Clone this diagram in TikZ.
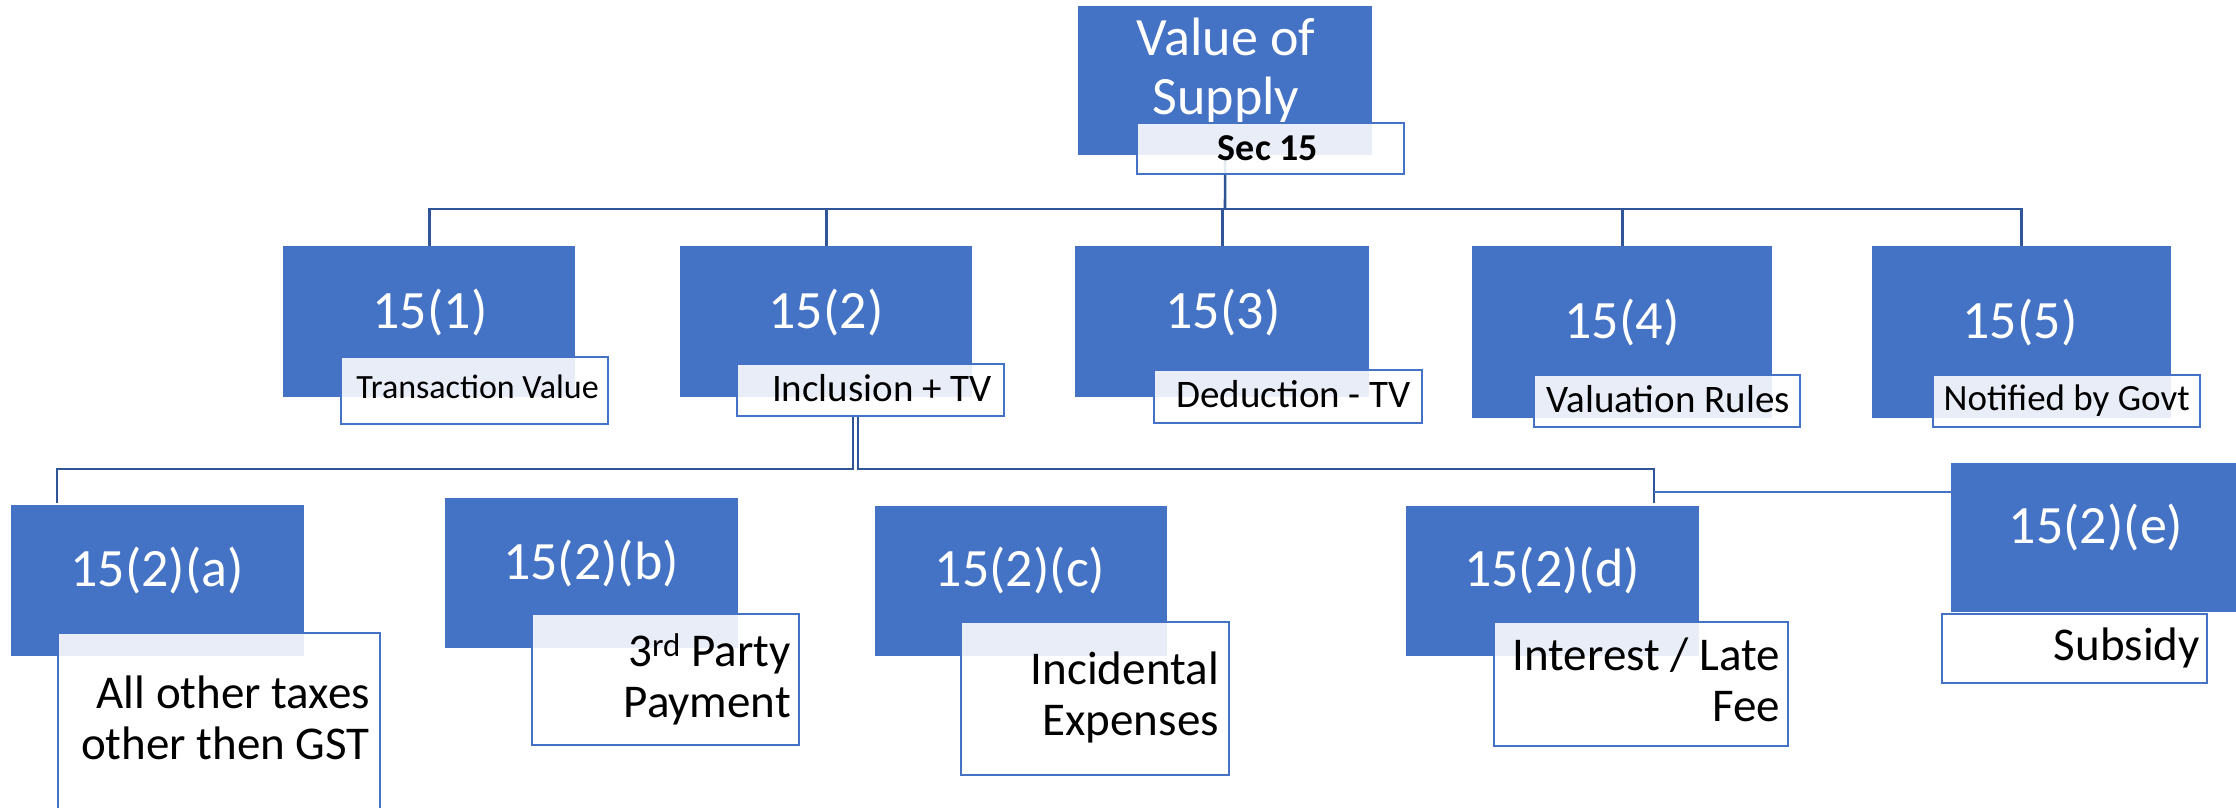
\documentclass[tikz,border=0pt]{standalone}
\usepackage{fontspec}
\setmainfont{Carlito}
\usetikzlibrary{backgrounds}
\definecolor{boxblue}{HTML}{4472C4}
\definecolor{linkblue}{HTML}{2F5597}
\tikzset{
  blk/.style={fill=boxblue, draw=none, inner sep=0pt, anchor=north west},
  tag/.style={fill=white, fill opacity=0.88, draw=boxblue, line width=2.2pt, inner sep=0pt, anchor=north west},
  conn/.style={draw=linkblue, line width=2.6pt},
  thinconn/.style={draw=boxblue, line width=1.6pt},
  ttl/.style={text=white, inner sep=0pt, anchor=base, font=\fontsize{54}{59}\selectfont},
  tagtxt/.style={text=black, inner sep=0pt, anchor=base east},
  subtxt/.style={text=black, inner sep=0pt, anchor=base east, align=right, font=\fontsize{47}{51}\selectfont},
}
\begin{document}
\begin{tikzpicture}[x=1pt, y=-1pt]
\useasboundingbox (0,0) rectangle (2236,808);
\clip (0,0) rectangle (2236,808);

% ---- connector junctions
\coordinate (hub) at (1225,209);
\coordinate (jl) at (853,415);
\coordinate (jr) at (858,415);
\coordinate (busY) at (0,469);
\coordinate (ca) at (57,503);
\coordinate (cd) at (1654,503);
\coordinate (te) at (1654,492);

% ---- blue boxes
\node[blk, minimum width=294pt, minimum height=149pt] (vos) at (1078,6) {};
\node[blk, minimum width=292pt, minimum height=151pt] (b1) at (283,246) {};
\node[blk, minimum width=292pt, minimum height=151pt] (b2) at (680,246) {};
\node[blk, minimum width=294pt, minimum height=151pt] (b3) at (1075,246) {};
\node[blk, minimum width=300pt, minimum height=172pt] (b4) at (1472,246) {};
\node[blk, minimum width=299pt, minimum height=172pt] (b5) at (1872,246) {};
\node[blk, minimum width=293pt, minimum height=151pt] (ba) at (11,505) {};
\node[blk, minimum width=293pt, minimum height=150pt] (bb) at (445,498) {};
\node[blk, minimum width=292pt, minimum height=150pt] (bc) at (875,506) {};
\node[blk, minimum width=293pt, minimum height=150pt] (bd) at (1406,506) {};
\node[blk, minimum width=300pt, minimum height=149pt] (be) at (1951,463) {};

% ---- connectors, kept behind the boxes
\begin{scope}[on background layer]
\draw[conn] (vos.south) -- (hub);
\draw[conn] (hub) -| (b1.north);
\draw[conn] (hub) -| (b2.north);
\draw[conn] (hub) -| (b3.north);
\draw[conn] (hub) -| (b4.north);
\draw[conn] (hub) -| (b5.north);
\draw[conn] (jl) -- (jl |- busY) -| (ca);
\draw[conn] (jr) -- (jr |- busY) -| (cd);
\draw[thinconn] (te) -- (te -| be.west);
\end{scope}

% ---- titles in the blue boxes
\node[ttl, align=center] (vostxt) at (1226,114) {Value of\\Supply};
\node[ttl] (t1) at (430,328) {15(1)};
\node[ttl] (t2) at (826,328) {15(2)};
\node[ttl] (t3) at (1223,328) {15(3)};
\node[ttl] (t4) at (1622,338) {15(4)};
\node[ttl] (t5) at (2020,338) {15(5)};
\node[ttl] (ta) at (157,586) {15(2)(a)};
\node[ttl] (tb) at (591,579) {15(2)(b)};
\node[ttl] (tc) at (1020,586) {15(2)(c)};
\node[ttl] (td) at (1552,586) {15(2)(d)};
\node[ttl] (tE) at (2096,543) {15(2)(e)};

% ---- text boxes laid over the blue boxes
\node[tag, minimum width=267pt, minimum height=51pt] (sec) at (1136,122) {};
\node[tag, minimum width=267pt, minimum height=67pt] (l1) at (340,356) {};
\node[tag, minimum width=267pt, minimum height=52pt] (l2) at (736,363) {};
\node[tag, minimum width=268pt, minimum height=53pt] (l3) at (1153,369) {};
\node[tag, minimum width=266pt, minimum height=52pt] (l4) at (1533,374) {};
\node[tag, minimum width=267pt, minimum height=52pt] (l5) at (1932,374) {};
\node[tag, minimum width=322pt, minimum height=200pt] (la) at (57,632) {};
\node[tag, minimum width=267pt, minimum height=131pt] (lb) at (531,613) {};
\node[tag, minimum width=268pt, minimum height=153pt] (lc) at (960,621) {};
\node[tag, minimum width=294pt, minimum height=124pt] (ld) at (1493,621) {};
\node[tag, minimum width=265pt, minimum height=69pt] (lE) at (1941,613) {};

% ---- texts of the text boxes
\node[text=black, inner sep=0pt, anchor=base, font=\fontsize{38}{44}\bfseries\selectfont] (sectxt) at (1268,160) {Sec 15};
\node[tagtxt, font=\fontsize{34}{40}\selectfont] (l1txt) at (599,398) {Transaction Value};
\node[tagtxt, font=\fontsize{39}{45}\selectfont] (l2txt) at (992,401) {Inclusion + TV};
\node[tagtxt, font=\fontsize{39}{45}\selectfont] (l3txt) at (1411,407) {Deduction - TV};
\node[tagtxt, font=\fontsize{39}{45}\selectfont] (l4txt) at (1790,412) {Valuation Rules};
\node[tagtxt, font=\fontsize{37}{43}\selectfont] (l5txt) at (2190,410) {Notified by Govt};
\node[subtxt] (latxt) at (370,759) {All other taxes\\other then GST};
\node[subtxt] (lbtxt) at (791,717) {3\textsuperscript{rd} Party\\Payment};
\node[subtxt] (lctxt) at (1219,735) {Incidental\\Expenses};
\node[subtxt] (ldtxt) at (1780,721) {Interest / Late\\Fee};
\node[subtxt] (lEtxt) at (2200,660) {Subsidy};
\end{tikzpicture}
\end{document}
